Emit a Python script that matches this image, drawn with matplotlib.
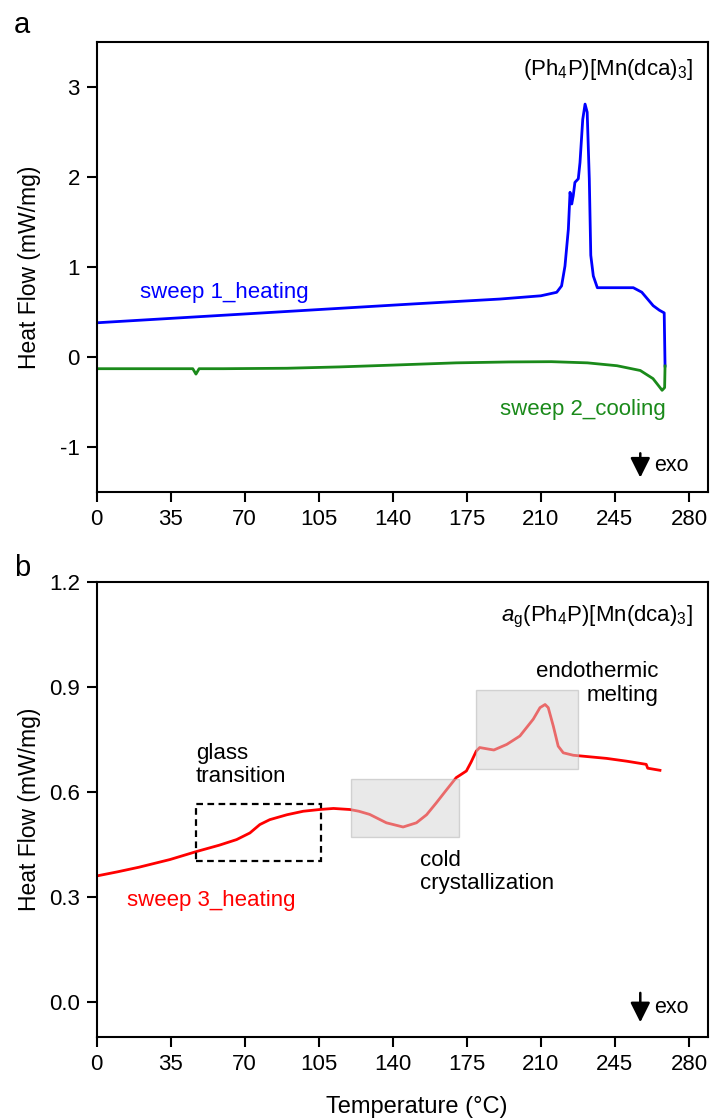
import matplotlib
matplotlib.use("Agg")
import matplotlib.pyplot as plt
from matplotlib.patches import Rectangle

plt.rcParams['font.family'] = ['Liberation Sans', 'DejaVu Sans']
plt.rcParams['mathtext.fontset'] = 'custom'
plt.rcParams['mathtext.rm'] = 'Liberation Sans'
plt.rcParams['mathtext.it'] = 'Liberation Sans:italic'
plt.rcParams['axes.unicode_minus'] = False

# ---------------- data ----------------
# panel a, sweep 1 heating
T_heat1 = [0, 50, 100, 150, 190.7, 210, 217.5, 219.8, 221.4, 223, 223.8, 224.6, 225.3,
           226.1, 227.7, 228.5, 229.8, 230.9, 231.9, 232.9, 233.6, 234.8, 236.7, 242.7,
           253.7, 257.7, 263.1, 266, 268.3, 268.7]
hf_heat1 = [0.38, 0.45, 0.52, 0.59, 0.644, 0.68, 0.719, 0.79, 1.01, 1.42, 1.83, 1.70, 1.79,
            1.94, 1.98, 2.16, 2.64, 2.81, 2.72, 1.98, 1.13, 0.90, 0.77, 0.77,
            0.77, 0.72, 0.57, 0.52, 0.49, -0.10]
# panel a, sweep 2 cooling
T_cool2 = [268.7, 268.5, 267.3, 266, 263, 257, 246, 232, 215, 195, 170, 140, 115, 90,
           60, 48.5, 47, 45.5, 30, 0]
hf_cool2 = [-0.10, -0.34, -0.37, -0.33, -0.24, -0.15, -0.097, -0.065, -0.052, -0.055,
            -0.065, -0.09, -0.11, -0.125, -0.13, -0.13, -0.19, -0.13, -0.13, -0.13]
# panel b, sweep 3 heating
T_heat3 = [0, 10, 20, 34.7, 47.3, 58, 66.2, 72.5, 77.2, 81.9, 90, 97.7, 105.5, 112, 119.7,
           124, 129.1, 137, 144.9, 151.2, 156, 160.6, 165, 170, 174.8, 177, 179.5, 181.1,
           183, 185.8, 187.8, 193.9, 200.1, 206.4, 209.6, 212, 213.5, 215.9, 218.2, 220.6,
           225.3, 241.1, 250.6, 259.8, 260.5, 266.3]
hf_heat3 = [0.36, 0.372, 0.385, 0.407, 0.430, 0.448, 0.464, 0.483, 0.507, 0.521, 0.535,
            0.545, 0.550, 0.553, 0.550, 0.545, 0.536, 0.512, 0.500, 0.512, 0.535, 0.569,
            0.603, 0.641, 0.660, 0.685, 0.717, 0.727, 0.725, 0.722, 0.720, 0.736, 0.760,
            0.808, 0.841, 0.850, 0.841, 0.788, 0.731, 0.712, 0.705, 0.696, 0.688, 0.679,
            0.668, 0.662]

x_ticks = [0, 35, 70, 105, 140, 175, 210, 245, 280]
ya_ticks = [-1, 0, 1, 2, 3]
yb_ticks = [0.0, 0.3, 0.6, 0.9, 1.2]

# ---------------- figure ----------------
W, H = 712, 1118
fig = plt.figure(figsize=(W / 100, H / 100), dpi=100)

left = 96.5 / W
width = (708 - 96.5) / W
axA = fig.add_axes([left, 1 - 492 / H, width, (492 - 42) / H])
axB = fig.add_axes([left, 1 - 1037 / H, width, (1037 - 582) / H])

for ax in (axA, axB):
    ax.set_xlim(0, 289)
    ax.set_xticks(x_ticks)
    for s in ax.spines.values():
        s.set_linewidth(1.5)
    ax.tick_params(axis='both', direction='out', length=7, width=1.5,
                   labelsize=16, top=False, right=False, pad=5)

arrow_props = dict(arrowstyle='-|>,head_length=0.6,head_width=0.3', lw=1.8,
                   color='k', mutation_scale=20, shrinkA=0, shrinkB=0)

# panel a
axA.plot(T_heat1, hf_heat1, color='#0000ff', lw=2)
axA.plot(T_cool2, hf_cool2, color='#1a8a1a', lw=2)
axA.set_ylim(-1.5, 3.5)
axA.set_yticks(ya_ticks)
axA.set_yticklabels([str(v) for v in ya_ticks])
axA.set_ylabel('Heat Flow (mW/mg)', fontsize=16.5)
axA.yaxis.set_label_coords(-0.09, 0.5)
axA.text(20.6, 0.72, 'sweep 1_heating', color='#0000ff', fontsize=16,
         ha='left', va='center')
axA.text(269, -0.58, 'sweep 2_cooling', color='#1a8a1a', fontsize=16,
         ha='right', va='center')
axA.text(282, 3.2, r'(Ph$_4$P)[Mn(dca)$_3$]', fontsize=16, ha='right', va='center')
axA.annotate('', xy=(257, -1.34), xytext=(257, -1.07), arrowprops=arrow_props)
axA.text(263.5, -1.21, 'exo', fontsize=15.5, ha='left', va='center')

# panel b
axB.plot(T_heat3, hf_heat3, color='#ff0000', lw=2, zorder=2)
axB.set_ylim(-0.1, 1.2)
axB.set_yticks(yb_ticks)
axB.set_yticklabels(['%.1f' % v for v in yb_ticks])
axB.set_ylabel('Heat Flow (mW/mg)', fontsize=16.5)
axB.yaxis.set_label_coords(-0.09, 0.5)
axB.set_xlabel('Temperature (°C)', fontsize=17, labelpad=14)
axB.xaxis.set_label_coords(0.524, -0.13)

axB.add_patch(Rectangle((47, 0.402), 59.1, 0.165, fill=False, ls=(0, (3, 2)),
                        lw=1.6, ec='k', zorder=3))
axB.add_patch(Rectangle((120.3, 0.472), 51.0, 0.166, fc='#d4d4d4', ec='#b0b0b0',
                        lw=1, alpha=0.5, zorder=3))
axB.add_patch(Rectangle((179.4, 0.667), 48.1, 0.224, fc='#d4d4d4', ec='#b0b0b0',
                        lw=1, alpha=0.5, zorder=3))

axB.text(47, 0.613, 'glass\ntransition', fontsize=16, ha='left', va='bottom',
         linespacing=1.15)
axB.text(153, 0.435, 'cold\ncrystallization', fontsize=16, ha='left', va='top',
         linespacing=1.15)
axB.text(265.4, 0.974, 'endothermic\nmelting', fontsize=16, ha='right', va='top',
         linespacing=1.15, multialignment='right')
axB.text(14.4, 0.29, 'sweep 3_heating', color='#ff0000', fontsize=16,
         ha='left', va='center')
axB.text(282, 1.10, r'$\mathit{a}_\mathrm{g}$(Ph$_4$P)[Mn(dca)$_3$]', fontsize=16,
         ha='right', va='center')
axB.annotate('', xy=(257, -0.058), xytext=(257, 0.026), arrowprops=arrow_props)
axB.text(263.5, -0.017, 'exo', fontsize=15.5, ha='left', va='center')

fig.text(14 / W, 1 - 25 / H, 'a', fontsize=21, ha='left', va='center')
fig.text(14 / W, 1 - 568 / H, 'b', fontsize=21, ha='left', va='center')

fig.savefig('out.png', dpi=100)
